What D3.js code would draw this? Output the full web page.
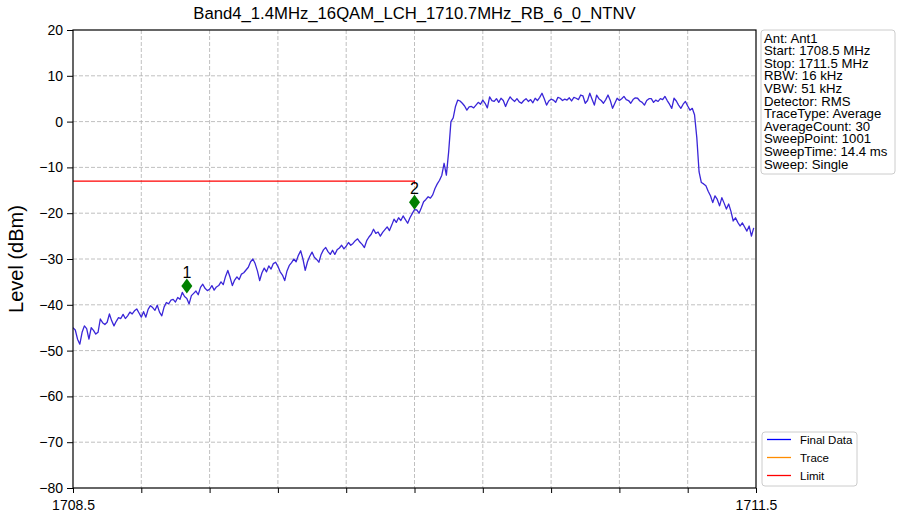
<!DOCTYPE html>
<html><head><meta charset="utf-8">
<script src="https://cdn.jsdelivr.net/npm/d3@7"></script>
<style>body{margin:0;background:#fff} text{font-family:"Liberation Sans",Arial,sans-serif}</style>
</head><body><svg id="c" width="897" height="518"></svg>
<script>
const chartTitle = "Band4_1.4MHz_16QAM_LCH_1710.7MHz_RB_6_0_NTNV";
const yLabel = "Level (dBm)";
const startFreq = 1708.5, stopFreq = 1711.5, freqStep = 0.01;
const levels = [
-45.0,-45.5,-47.5,-48.6,-46.0,-44.6,-45.2,-47.5,-45.0,-45.6,
-46.4,-46.0,-43.1,-43.9,-44.3,-43.8,-42.0,-43.5,-44.6,-43.6,
-42.8,-43.0,-42.1,-43.0,-42.4,-41.6,-42.0,-41.3,-40.9,-41.8,
-42.7,-41.5,-42.7,-41.0,-40.2,-40.6,-41.2,-40.1,-41.6,-42.4,
-40.5,-39.5,-39.8,-39.0,-38.8,-39.4,-38.4,-38.8,-37.3,-38.2,
-38.6,-39.8,-38.0,-37.5,-37.0,-37.8,-36.2,-35.5,-36.4,-36.9,
-36.6,-35.8,-36.8,-36.1,-35.8,-35.0,-35.6,-33.8,-32.5,-34.0,
-35.8,-34.6,-33.9,-34.5,-33.3,-33.0,-32.4,-31.8,-30.6,-30.0,
-31.0,-32.6,-34.7,-33.0,-32.0,-32.8,-31.5,-32.2,-31.0,-30.7,
-31.6,-32.8,-33.5,-34.7,-32.6,-31.4,-30.8,-30.0,-30.6,-29.2,
-28.2,-30.0,-32.5,-30.6,-29.4,-28.5,-29.6,-30.1,-30.7,-29.0,
-28.0,-27.5,-28.4,-29.0,-28.1,-29.0,-28.0,-27.6,-27.0,-27.8,
-27.2,-26.4,-27.0,-26.6,-26.0,-25.6,-26.3,-26.8,-27.5,-26.0,
-25.2,-24.6,-23.5,-24.4,-24.1,-25.0,-24.2,-23.6,-23.0,-23.8,
-22.6,-21.3,-22.0,-21.0,-21.6,-20.6,-21.4,-22.2,-21.0,-20.1,
-19.2,-19.3,-20.0,-18.8,-17.5,-17.0,-16.4,-16.7,-16.0,-14.6,
-13.6,-12.8,-11.7,-9.1,-11.7,-6.6,0.0,0.8,3.3,4.7,
4.5,4.0,3.4,2.5,3.2,3.3,3.0,3.6,4.2,3.8,
4.7,4.0,3.0,5.4,4.6,4.4,5.0,4.2,5.1,4.6,
3.3,4.5,5.4,4.8,4.4,5.0,4.3,4.0,4.6,5.0,
4.4,4.8,4.1,5.1,4.6,5.3,6.2,5.0,3.6,4.5,
4.9,4.7,4.2,5.3,5.1,4.6,4.9,4.7,5.2,4.5,
5.3,5.1,4.8,5.8,5.6,4.0,4.6,6.2,4.9,3.6,
5.8,5.0,4.6,4.0,4.8,5.8,4.6,2.9,4.0,5.1,
4.6,5.0,5.5,4.8,4.6,4.0,4.8,5.2,5.1,4.5,
4.2,3.6,4.6,5.0,5.0,4.2,4.7,4.4,5.0,4.8,
5.5,4.6,3.8,2.9,5.1,4.5,3.6,2.9,3.8,4.4,
3.4,2.5,2.9,1.5,-3.5,-11.0,-13.3,-13.6,-14.0,-15.2,
-16.2,-17.7,-16.2,-17.0,-18.4,-16.6,-17.8,-19.1,-18.0,-19.6,
-21.7,-21.0,-22.0,-22.8,-22.1,-23.0,-23.9,-22.8,-25.0,-23.2
];
const yTicks = [20,10,0,-10,-20,-30,-40,-50,-60,-70,-80];
const xTicks = [1708.5,1708.8,1709.1,1709.4,1709.7,1710.0,1710.3,1710.6,1710.9,1711.2,1711.5];
const xTickLabels = ["1708.5","","","","","","","","","","1711.5"];
const limitFreqs = [1708.5, 1710.0, 1710.0];
const limitLevels = [-13, -13, -13.7];
const markerFreqs = [1709.0, 1710.0];
const markerLevels = [-35.9, -17.6];
const markerLabels = ["1", "2"];
const infoLines = ["Ant: Ant1","Start: 1708.5 MHz","Stop: 1711.5 MHz","RBW: 16 kHz","VBW: 51 kHz","Detector: RMS","TraceType: Average","AverageCount: 30","SweepPoint: 1001","SweepTime: 14.4 ms","Sweep: Single"];
const legendNames = ["Final Data","Trace","Limit"];
const legendColors = ["#0000ff","#ff8c00","#ff0000"];

const svg = d3.select("#c");
const L = 73, R = 756, T = 30, B = 488;
const x = d3.scaleLinear().domain([startFreq, stopFreq]).range([L, R]);
const y = d3.scaleLinear().domain([-80, 20]).range([B, T]);

// grid
const g = svg.append("g");
g.selectAll(".gx").data(xTicks.slice(1, -1)).enter().append("line")
  .attr("x1", d => x(d)).attr("x2", d => x(d)).attr("y1", T).attr("y2", B)
  .attr("stroke", "#b0b0b0").attr("stroke-width", 0.8).attr("stroke-dasharray", "4,2");
g.selectAll(".gy").data(yTicks.slice(1, -1)).enter().append("line")
  .attr("y1", d => y(d)).attr("y2", d => y(d)).attr("x1", L).attr("x2", R)
  .attr("stroke", "#b0b0b0").attr("stroke-width", 0.8).attr("stroke-dasharray", "4,2");

// clip
svg.append("clipPath").attr("id", "clip").append("rect").attr("x", L).attr("y", T).attr("width", R - L).attr("height", B - T);

// trace
const line = d3.line().x((d, i) => x(startFreq + i * freqStep)).y(d => y(d));
svg.append("path").datum(levels).attr("clip-path", "url(#clip)")
  .attr("d", line).attr("fill", "none").attr("stroke", "#3a26d8").attr("stroke-width", 1.3).attr("stroke-linejoin", "round");

// limit
const lim = limitFreqs.map((f, i) => [f, limitLevels[i]]);
svg.append("path").datum(lim).attr("d", d3.line().x(d => x(d[0])).y(d => y(d[1])))
  .attr("fill", "none").attr("stroke", "#ff0000").attr("stroke-width", 1.1);

// markers
markerFreqs.forEach((f, i) => {
  const cx = x(f), cy = y(markerLevels[i]);
  svg.append("path").attr("d", `M${cx},${cy - 7.5}L${cx + 5.5},${cy}L${cx},${cy + 7.5}L${cx - 5.5},${cy}Z`).attr("fill", "#008000");
  svg.append("text").attr("x", cx).attr("y", cy - 8.5).attr("text-anchor", "middle")
    .attr("font-size", 16).attr("fill", "#000").text(markerLabels[i]);
});

// axes
const fmt = d => d < 0 ? "\u2212" + Math.abs(d) : String(d);
const ay = svg.append("g").attr("transform", `translate(${L},0)`)
  .call(d3.axisLeft(y).tickValues(yTicks).tickSize(6).tickPadding(4).tickFormat(fmt));
const ax = svg.append("g").attr("transform", `translate(0,${B})`)
  .call(d3.axisBottom(x).tickValues(xTicks).tickSize(5).tickPadding(7).tickFormat((d, i) => xTickLabels[i]));
[ay, ax].forEach(a => {
  a.select(".domain").remove();
  a.selectAll("text").attr("font-family", "Liberation Sans, Arial, sans-serif").attr("font-size", 14).attr("fill", "#000");
  a.selectAll("line").attr("stroke", "#000").attr("stroke-width", 1);
});
svg.append("rect").attr("x", L).attr("y", T).attr("width", R - L).attr("height", B - T)
  .attr("fill", "none").attr("stroke", "#000").attr("stroke-width", 1.2);

// title
svg.append("text").attr("x", (L + R) / 2).attr("y", 19).attr("text-anchor", "middle")
  .attr("font-size", 16.7).attr("fill", "#000").text(chartTitle);
svg.append("text").attr("transform", `translate(23,${(T + B) / 2}) rotate(-90)`).attr("text-anchor", "middle")
  .attr("font-size", 20).attr("fill", "#000").text(yLabel);

// info box
svg.append("rect").attr("x", 761).attr("y", 30).attr("width", 134).attr("height", 144).attr("rx", 3)
  .attr("fill", "#fff").attr("stroke", "#cccccc").attr("stroke-width", 1);
svg.selectAll(".info").data(infoLines).enter().append("text")
  .attr("x", 764).attr("y", (d, i) => 42.5 + i * 12.6).attr("font-size", 13.2).attr("fill", "#000").text(d => d);

// legend
svg.append("rect").attr("x", 762).attr("y", 432).attr("width", 95).attr("height", 54).attr("rx", 3)
  .attr("fill", "#fff").attr("stroke", "#cccccc").attr("stroke-width", 1);
legendNames.forEach((n, i) => {
  const ly = 439.5 + i * 18;
  svg.append("line").attr("x1", 767).attr("x2", 791).attr("y1", ly).attr("y2", ly)
    .attr("stroke", legendColors[i]).attr("stroke-width", 1.3);
  svg.append("text").attr("x", 800).attr("y", ly).attr("dy", "0.35em").attr("font-size", 11.5).attr("fill", "#000").text(n);
});
</script></body></html>
